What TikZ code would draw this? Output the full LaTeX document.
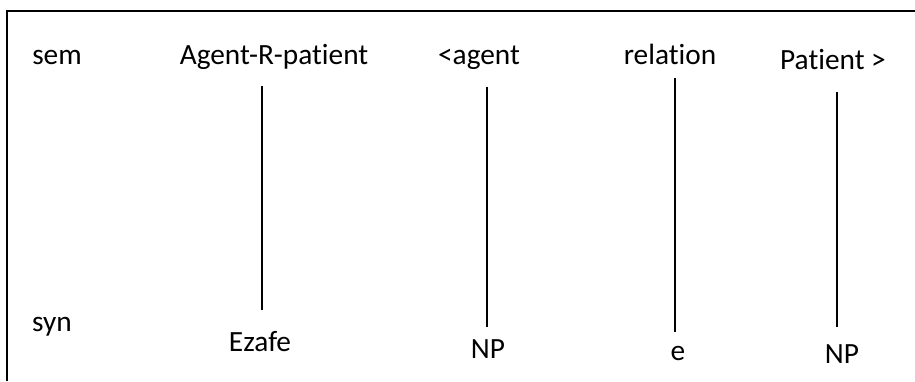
\documentclass[tikz,border=0pt]{standalone}
\usepackage{fontspec}
\setmainfont{Carlito}[Ligatures=CommonOff]
\usepackage{tikz}
\usetikzlibrary{positioning}

\begin{document}
\begin{tikzpicture}[
    x=0.375pt, y=-0.375pt, font=\fontsize{11}{13}\selectfont,
    lbl/.style={anchor=base, inner sep=0pt},
    link/.style={draw, line width=0.75pt},
    frame/.style={draw, line width=0.75pt}]
    \useasboundingbox (0,0) rectangle (915,381);
    \draw[frame] (7,381) |- (915,11);
    % sem row
    \node[lbl] (sem)  at (57,65)  {sem};
    \node[lbl] (arp)  at (274,65) {Agent-R-patient};
    \node[lbl] (ag)   at (479,65) {<agent};
    \node[lbl] (rel)  at (670,65) {relation};
    \node[lbl] (pat)  at (833,70) {Patient >};
    % syn row
    \node[lbl] (syn)  at (52,331)  {syn};
    \node[lbl] (ez)   at (260,351) {Ezafe};
    \node[lbl] (np1)  at (488,358) {NP};
    \node[lbl] (e)    at (678,360) {e};
    \node[lbl] (np2)  at (842,363) {NP};
    % line ends
    \coordinate (t1) at (262,86);  \coordinate (b1) at (262,310);
    \coordinate (t2) at (487,87);  \coordinate (b2) at (487,327);
    \coordinate (t3) at (675,78);  \coordinate (b3) at (675,332);
    \coordinate (t4) at (837,92);  \coordinate (b4) at (837,327);
    \foreach \i in {1,2,3,4} {\draw[link] (t\i) -- (b\i);}
\end{tikzpicture}
\end{document}
